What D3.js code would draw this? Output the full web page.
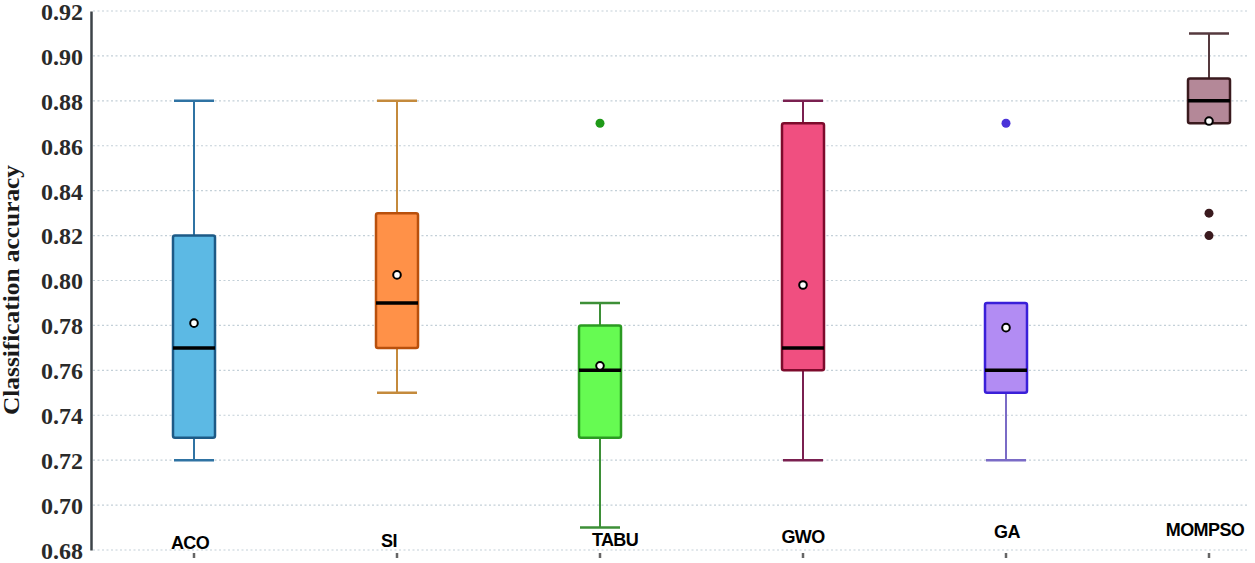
<!DOCTYPE html>
<html>
<head>
<meta charset="utf-8">
<script src="https://cdn.jsdelivr.net/npm/d3@7"></script>
<style>
  body { margin: 0; background: #fff; }
  svg { display: block; }
</style>
</head>
<body>
<div id="chart"></div>
<script>
// data
var methods = ["ACO", "SI", "TABU", "GWO", "GA", "MOMPSO"];
var mins    = [0.72, 0.75, 0.69, 0.72, 0.72, 0.87];
var q1s     = [0.73, 0.77, 0.73, 0.76, 0.75, 0.87];
var medians = [0.77, 0.79, 0.76, 0.77, 0.76, 0.88];
var q3s     = [0.82, 0.83, 0.78, 0.87, 0.79, 0.89];
var maxs    = [0.88, 0.88, 0.79, 0.88, 0.79, 0.91];
var means   = [0.781, 0.8025, 0.762, 0.798, 0.779, 0.871];
var outliers = [[], [], [0.87], [], [0.87], [0.83, 0.82]];
var yTicks = [0.68, 0.70, 0.72, 0.74, 0.76, 0.78, 0.80, 0.82, 0.84, 0.86, 0.88, 0.90, 0.92];

// colours per method
var fills   = ["#5cb9e4", "#ff9148", "#66fb52", "#f04f80", "#b28cf3", "#b48898"];
var strokes = ["#1d5a86", "#b9500c", "#2b9a22", "#7d0b2c", "#3a1fd8", "#3a1a1e"];
var whisk   = ["#2f73a3", "#c48a3c", "#3d8f37", "#7a2050", "#7a6bc6", "#55393e"];
var dots    = ["#1d5a86", "#b9500c", "#1f9a18", "#7d0b2c", "#4a33d8", "#3a1a1e"];
// labels are staggered a little in the original
var labelDy = [0, -2, -3, -6, -11, -13];
var labelDx = [-4, -8, 15, 0, 1, -4];

// set the dimensions and margins of the graph
var margin = {top: 11, right: 0, bottom: 13, left: 91},
    width = 1255 - margin.left - margin.right,
    height = 563 - margin.top - margin.bottom;

var x = d3.scalePoint().domain(methods).range([103, 1118]);
var y = d3.scaleLinear().domain([0.68, 0.92]).range([height, 0]);

var svg = d3.select("#chart").append("svg")
    .attr("width", 1255)
    .attr("height", 563)
  .append("g")
    .attr("transform", "translate(" + margin.left + "," + margin.top + ")");

// dotted grid
svg.append("g").selectAll("line")
    .data(yTicks)
  .enter().append("line")
    .attr("x1", 2).attr("x2", width - 8)
    .attr("y1", function(d) { return y(d); })
    .attr("y2", function(d) { return y(d); })
    .attr("stroke", "#c3d0d8")
    .attr("stroke-width", 1.2)
    .attr("stroke-dasharray", "2,2.5");

// y axis
var yAxis = svg.append("g")
    .call(d3.axisLeft(y).tickValues(yTicks).tickFormat(d3.format(".2f")).tickSize(0).tickPadding(8));
yAxis.select(".domain").attr("stroke", "#3c4348").attr("stroke-width", 2.5);
yAxis.selectAll("text")
    .attr("font-family", "Liberation Serif, Times New Roman, serif")
    .attr("font-weight", "bold")
    .attr("font-size", 24)
    .attr("fill", "#2a2a2a")
    .attr("dy", "0.35em");

svg.append("text")
    .attr("transform", "translate(" + (-72) + "," + 279 + ") rotate(-90)")
    .attr("text-anchor", "middle")
    .attr("font-family", "Liberation Serif, Times New Roman, serif")
    .attr("font-weight", "bold")
    .attr("font-size", 23)
    .attr("textLength", 250)
    .attr("lengthAdjust", "spacingAndGlyphs")
    .attr("fill", "#1a1a1a")
    .text("Classification accuracy");

var idx = d3.range(methods.length);
var boxW = 42, capW = 40;

var g = svg.append("g").selectAll("g")
    .data(idx)
  .enter().append("g")
    .attr("transform", function(i) { return "translate(" + x(methods[i]) + ",0)"; });

// whiskers
g.append("line")
    .attr("y1", function(i) { return y(maxs[i]); })
    .attr("y2", function(i) { return y(q3s[i]); })
    .attr("stroke", function(i) { return whisk[i]; })
    .attr("stroke-width", 2);
g.append("line")
    .attr("y1", function(i) { return y(q1s[i]); })
    .attr("y2", function(i) { return y(mins[i]); })
    .attr("stroke", function(i) { return whisk[i]; })
    .attr("stroke-width", 2);
g.filter(function(i) { return maxs[i] > q3s[i]; }).append("line")
    .attr("x1", -capW / 2).attr("x2", capW / 2)
    .attr("y1", function(i) { return y(maxs[i]); })
    .attr("y2", function(i) { return y(maxs[i]); })
    .attr("stroke", function(i) { return whisk[i]; })
    .attr("stroke-width", 2.5);
g.filter(function(i) { return mins[i] < q1s[i]; }).append("line")
    .attr("x1", -capW / 2).attr("x2", capW / 2)
    .attr("y1", function(i) { return y(mins[i]); })
    .attr("y2", function(i) { return y(mins[i]); })
    .attr("stroke", function(i) { return whisk[i]; })
    .attr("stroke-width", 2.5);

// boxes
g.append("rect")
    .attr("x", -boxW / 2)
    .attr("width", boxW)
    .attr("y", function(i) { return y(q3s[i]); })
    .attr("height", function(i) { return y(q1s[i]) - y(q3s[i]); })
    .attr("rx", 2)
    .attr("fill", function(i) { return fills[i]; })
    .attr("stroke", function(i) { return strokes[i]; })
    .attr("stroke-width", 2.5);

// medians
g.append("line")
    .attr("x1", -boxW / 2).attr("x2", boxW / 2)
    .attr("y1", function(i) { return y(medians[i]); })
    .attr("y2", function(i) { return y(medians[i]); })
    .attr("stroke", "#000")
    .attr("stroke-width", 3.5);

// means
g.append("circle")
    .attr("cy", function(i) { return y(means[i]); })
    .attr("r", 3.8)
    .attr("fill", "#fff")
    .attr("stroke", "#000")
    .attr("stroke-width", 2);

// outliers
g.selectAll(".out")
    .data(function(i) { return outliers[i].map(function(v) { return {v: v, i: i}; }); })
  .enter().append("circle")
    .attr("class", "out")
    .attr("cy", function(d) { return y(d.v); })
    .attr("r", 4.5)
    .attr("fill", function(d) { return dots[d.i]; });

// category ticks and labels
g.append("line")
    .attr("y1", height + 3).attr("y2", height + 8)
    .attr("stroke", "#666")
    .attr("stroke-width", 2.5);
g.append("text")
    .attr("x", function(i) { return labelDx[i]; })
    .attr("y", function(i) { return height - 1 + labelDy[i]; })
    .attr("text-anchor", "middle")
    .attr("font-family", "Liberation Sans, Arial, sans-serif")
    .attr("font-weight", "bold")
    .attr("font-size", 18)
    .attr("letter-spacing", -0.6)
    .attr("fill", "#000")
    .text(function(i) { return methods[i]; });
</script>
</body>
</html>
